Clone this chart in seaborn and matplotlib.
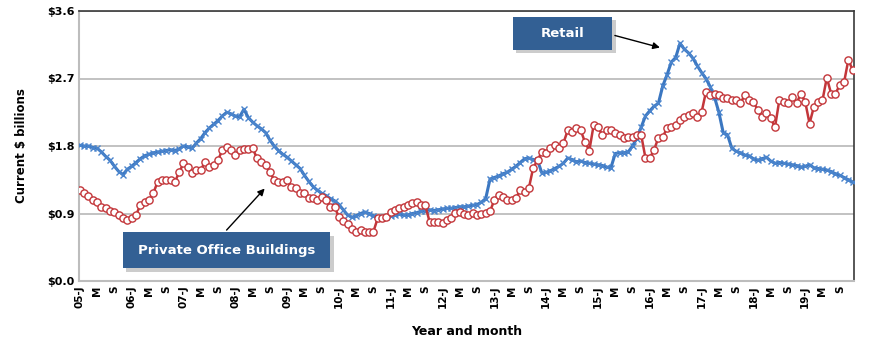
import matplotlib
matplotlib.use("Agg")
import matplotlib.pyplot as plt
import seaborn as sns
import pandas as pd
import numpy as np
from matplotlib.patches import Rectangle
import matplotlib.patheffects as pe

# ---- data (monthly, Jan 2005 - Dec 2019, $ billions) ----
retail = [
    1.81, 1.80, 1.80, 1.78, 1.77, 1.72, 1.66, 1.61, 1.53, 1.46, 1.42, 1.49,
    1.53, 1.58, 1.63, 1.67, 1.69, 1.71, 1.72, 1.73, 1.74, 1.75, 1.74, 1.76,
    1.80, 1.79, 1.77, 1.84, 1.90, 1.98, 2.04, 2.09, 2.14, 2.20, 2.25, 2.23,
    2.20, 2.19, 2.29, 2.18, 2.12, 2.07, 2.03, 1.98, 1.88, 1.80, 1.74, 1.69,
    1.65, 1.60, 1.55, 1.50, 1.41, 1.33, 1.26, 1.21, 1.17, 1.14, 1.10, 1.07,
    1.02, 0.95, 0.88, 0.85, 0.87, 0.90, 0.92, 0.90, 0.87, 0.85, 0.84, 0.86,
    0.87, 0.88, 0.89, 0.88, 0.88, 0.90, 0.91, 0.93, 0.94, 0.95, 0.94, 0.95,
    0.96, 0.97, 0.97, 0.98, 0.99, 0.99, 1.00, 1.01, 1.02, 1.05, 1.10, 1.36,
    1.38, 1.40, 1.43, 1.45, 1.49, 1.53, 1.58, 1.63, 1.64, 1.62, 1.61, 1.44,
    1.45, 1.47, 1.50, 1.53, 1.57, 1.64, 1.62, 1.59, 1.60, 1.58, 1.57, 1.56,
    1.55, 1.54, 1.52, 1.51, 1.70, 1.71, 1.71, 1.72, 1.80, 1.90, 2.05, 2.20,
    2.27, 2.33, 2.37, 2.60, 2.75, 2.92, 2.98, 3.17, 3.09, 3.04, 2.97, 2.87,
    2.78, 2.70, 2.59, 2.45, 2.25, 1.98, 1.95, 1.77, 1.73, 1.71, 1.68, 1.67,
    1.63, 1.61, 1.63, 1.65, 1.60, 1.57, 1.58, 1.57, 1.56, 1.55, 1.54, 1.52,
    1.53, 1.55, 1.51, 1.50, 1.49, 1.48, 1.46, 1.43, 1.41, 1.38, 1.35, 1.32,
]
office = [
    1.21, 1.18, 1.13, 1.08, 1.05, 0.99, 0.97, 0.93, 0.92, 0.88, 0.84, 0.81,
    0.84, 0.88, 1.01, 1.05, 1.08, 1.17, 1.32, 1.35, 1.35, 1.35, 1.32, 1.45,
    1.57, 1.52, 1.44, 1.48, 1.48, 1.59, 1.52, 1.55, 1.61, 1.75, 1.79, 1.75,
    1.68, 1.75, 1.76, 1.76, 1.77, 1.64, 1.59, 1.55, 1.45, 1.35, 1.32, 1.32,
    1.35, 1.25, 1.24, 1.17, 1.17, 1.11, 1.11, 1.08, 1.12, 1.08, 0.99, 0.99,
    0.85, 0.80, 0.76, 0.70, 0.66, 0.68, 0.66, 0.65, 0.66, 0.84, 0.84, 0.85,
    0.92, 0.95, 0.97, 0.99, 1.01, 1.04, 1.05, 1.01, 1.01, 0.79, 0.79, 0.79,
    0.77, 0.81, 0.84, 0.91, 0.92, 0.90, 0.88, 0.91, 0.88, 0.89, 0.91, 0.93,
    1.08, 1.15, 1.12, 1.08, 1.08, 1.11, 1.21, 1.19, 1.24, 1.51, 1.61, 1.72,
    1.71, 1.77, 1.81, 1.77, 1.84, 2.01, 1.99, 2.04, 2.01, 1.85, 1.74, 2.08,
    2.05, 1.95, 2.01, 2.01, 1.97, 1.95, 1.91, 1.92, 1.92, 1.95, 1.95, 1.64,
    1.64, 1.75, 1.91, 1.92, 2.04, 2.05, 2.08, 2.15, 2.19, 2.21, 2.24, 2.19,
    2.25, 2.52, 2.48, 2.50, 2.48, 2.44, 2.44, 2.41, 2.41, 2.37, 2.48, 2.41,
    2.39, 2.28, 2.19, 2.24, 2.17, 2.05, 2.41, 2.39, 2.37, 2.45, 2.37, 2.50,
    2.39, 2.10, 2.32, 2.39, 2.41, 2.71, 2.50, 2.50, 2.61, 2.65, 2.95, 2.81,
]
years = [f"{y:02d}" for y in range(5, 20)]
month_letters = ["J", "M", "S"]
y_ticks = [0.0, 0.9, 1.8, 2.7, 3.6]
y_tick_labels = ["$0.0", "$0.9", "$1.8", "$2.7", "$3.6"]

months = list(range(len(retail)))
df = pd.DataFrame({"month": months + months,
                   "value": retail + office,
                   "series": ["Retail"] * len(retail) + ["Private Office Buildings"] * len(office)})

sns.set_theme(style="white")
plt.rcParams['font.family'] = ['DejaVu Sans']
plt.rcParams['text.color'] = 'black'
plt.rcParams['axes.labelcolor'] = 'black'
plt.rcParams['xtick.color'] = 'black'
plt.rcParams['ytick.color'] = 'black'

fig = plt.figure(figsize=(8.7, 3.49), dpi=100)
ax = fig.add_axes([79 / 870, 1 - 281 / 349, 775 / 870, 270 / 349])

BLUE = "#3B77C1"
RED = "#C3363A"

sns.lineplot(data=df[df.series == "Retail"], x="month", y="value", ax=ax,
             color=BLUE, linewidth=2.2, marker="x", markersize=4.5,
             markeredgewidth=1.0, markeredgecolor="#4A84CC", zorder=3, legend=False)
sns.lineplot(data=df[df.series == "Private Office Buildings"], x="month", y="value", ax=ax,
             color=RED, linewidth=1.8, marker="o", markersize=5.2,
             markerfacecolor="white", markeredgecolor=RED, markeredgewidth=1.0,
             zorder=4, legend=False)

ax.set_xlim(-0.2, 179.3)
ax.set_ylim(0, 3.6)

# ticks
xt, xl = [], []
for i, yy in enumerate(years):
    for j, ml in enumerate(month_letters):
        xt.append(i * 12 + j * 4)
        xl.append(f"{yy}-{ml}" if j == 0 else ml)
ax.set_xticks(xt)
ax.set_xticklabels(xl, rotation=90, fontsize=7.5, fontweight="bold", color="black")
ax.set_yticks(y_ticks)
ax.set_yticklabels(y_tick_labels, fontsize=8, fontweight="bold", color="black")
ax.tick_params(axis="both", length=0, pad=3)

ax.yaxis.grid(True, color="#BDBDBD", linewidth=1.3)
ax.xaxis.grid(False)
ax.set_axisbelow(True)
for s in ["left", "bottom"]:
    ax.spines[s].set_color("#BDBDBD")
    ax.spines[s].set_linewidth(1.5)
for s in ["top", "right"]:
    ax.spines[s].set_color("#3A3A3A")
    ax.spines[s].set_linewidth(1.2)

ax.set_xlabel("Year and month", fontsize=9, fontweight="bold", labelpad=12, color="black")
ax.set_ylabel("Current $ billions", fontsize=8.5, fontweight="bold", labelpad=14, color="black")

# annotation boxes
BOX = "#336094"
shadow = [pe.withSimplePatchShadow(offset=(2.5, -2.5), shadow_rgbFace="#9a9a9a", alpha=0.5)]

def box(x0, y0, x1, y1, text):
    r = Rectangle((x0, y0), x1 - x0, y1 - y0, transform=ax.transAxes,
                  facecolor=BOX, edgecolor="none", zorder=6, clip_on=False,
                  path_effects=shadow)
    ax.add_patch(r)
    ax.text((x0 + x1) / 2, (y0 + y1) / 2, text, transform=ax.transAxes,
            ha="center", va="center", color="white", fontsize=9.5,
            fontweight="bold", zorder=7)

box(0.560, 0.856, 0.688, 0.978, "Retail")
ax.annotate("", xy=(0.753, 0.862), xytext=(0.688, 0.912),
            xycoords="axes fraction", textcoords="axes fraction",
            arrowprops=dict(arrowstyle="-|>", color="black", lw=1.0,
                            mutation_scale=10), zorder=8)

box(0.0568, 0.048, 0.324, 0.181, "Private Office Buildings")
ax.annotate("", xy=(0.242, 0.350), xytext=(0.188, 0.181),
            xycoords="axes fraction", textcoords="axes fraction",
            arrowprops=dict(arrowstyle="-|>", color="black", lw=1.0,
                            mutation_scale=10), zorder=8)

fig.savefig("out.png", dpi=100)
